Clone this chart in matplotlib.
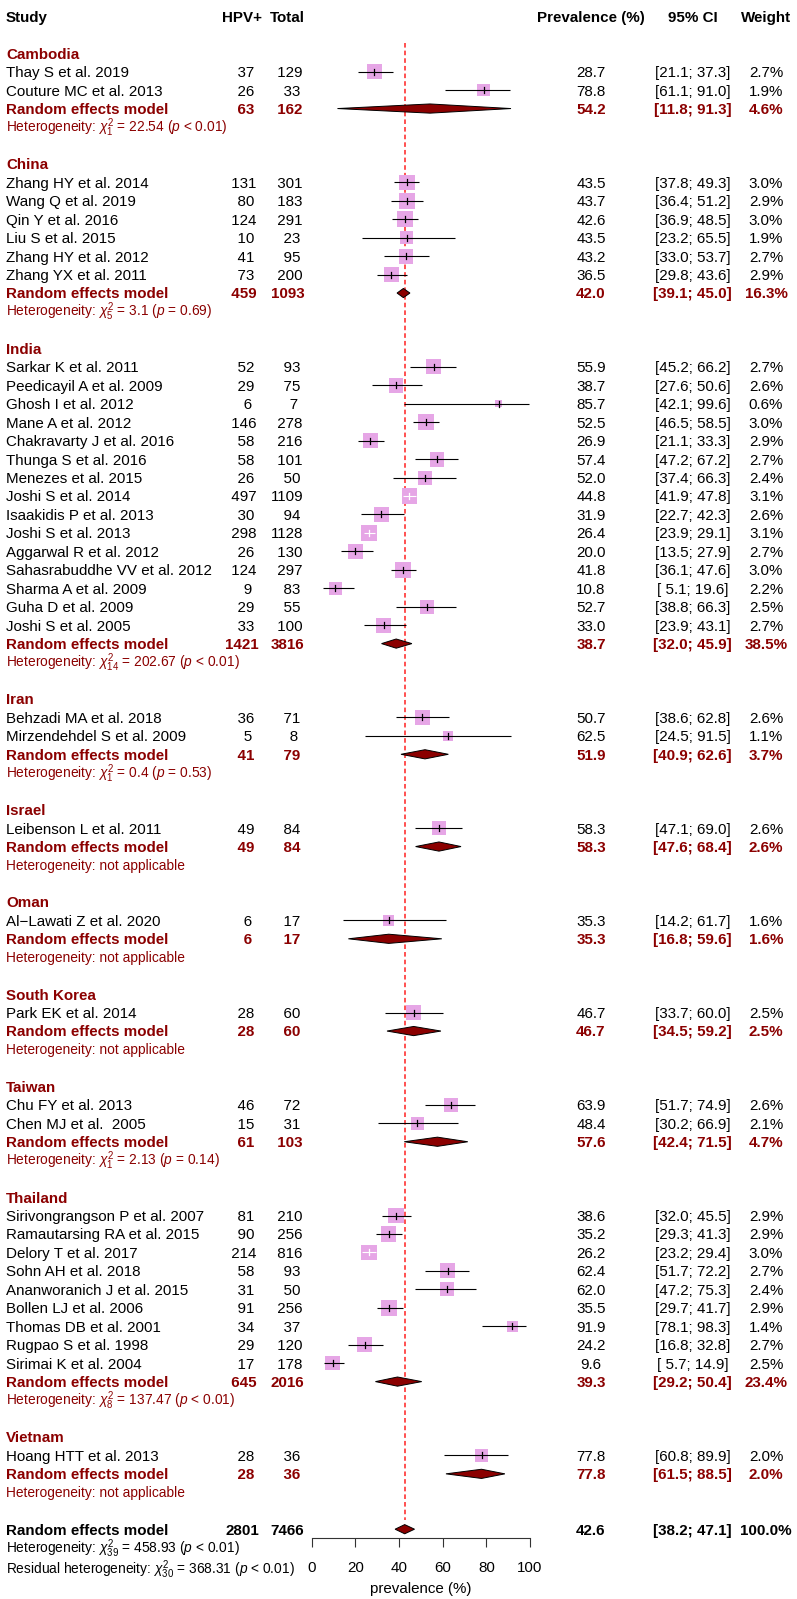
import numpy as np
import matplotlib
matplotlib.use("Agg")
import matplotlib.pyplot as plt
from matplotlib.patches import Rectangle, Polygon
from matplotlib.transforms import blended_transform_factory

plt.rcParams['font.family'] = ['Liberation Sans', 'DejaVu Sans']
plt.rcParams['mathtext.fontset'] = 'custom'
plt.rcParams['mathtext.rm'] = 'Liberation Sans'
plt.rcParams['mathtext.it'] = 'Liberation Sans:italic'
plt.rcParams['mathtext.bf'] = 'Liberation Sans:bold'

# ---------------- data ----------------
groups = ["Cambodia", "China", "India", "Iran", "Israel", "Oman",
          "South Korea", "Taiwan", "Thailand", "Vietnam"]

study_group = (["Cambodia"] * 2 + ["China"] * 6 + ["India"] * 15 + ["Iran"] * 2 +
               ["Israel"] + ["Oman"] + ["South Korea"] + ["Taiwan"] * 2 +
               ["Thailand"] * 9 + ["Vietnam"])

studies = [
    "Thay S et al. 2019", "Couture MC et al. 2013",
    "Zhang HY et al. 2014", "Wang Q et al. 2019", "Qin Y et al. 2016",
    "Liu S et al. 2015", "Zhang HY et al. 2012", "Zhang YX et al. 2011",
    "Sarkar K et al. 2011", "Peedicayil A et al. 2009", "Ghosh I et al. 2012",
    "Mane A et al. 2012", "Chakravarty J et al. 2016", "Thunga S et al. 2016",
    "Menezes et al. 2015", "Joshi S et al. 2014", "Isaakidis P et al. 2013",
    "Joshi S et al. 2013", "Aggarwal R et al. 2012", "Sahasrabuddhe VV et al. 2012",
    "Sharma A et al. 2009", "Guha D et al. 2009", "Joshi S et al. 2005",
    "Behzadi MA et al. 2018", "Mirzendehdel S et al. 2009",
    "Leibenson L et al. 2011",
    "Al\u2212Lawati Z et al. 2020",
    "Park EK et al. 2014",
    "Chu FY et al. 2013", "Chen MJ et al.  2005",
    "Sirivongrangson P et al. 2007", "Ramautarsing RA et al. 2015",
    "Delory T et al. 2017", "Sohn AH et al. 2018", "Ananworanich J et al. 2015",
    "Bollen LJ et al. 2006", "Thomas DB et al. 2001", "Rugpao S et al. 1998",
    "Sirimai K et al. 2004",
    "Hoang HTT et al. 2013",
]
events = [37, 26,
          131, 80, 124, 10, 41, 73,
          52, 29, 6, 146, 58, 58, 26, 497, 30, 298, 26, 124, 9, 29, 33,
          36, 5,
          49,
          6,
          28,
          46, 15,
          81, 90, 214, 58, 31, 91, 34, 29, 17,
          28]
totals = [129, 33,
          301, 183, 291, 23, 95, 200,
          93, 75, 7, 278, 216, 101, 50, 1109, 94, 1128, 130, 297, 83, 55, 100,
          71, 8,
          84,
          17,
          60,
          72, 31,
          210, 256, 816, 93, 50, 256, 37, 120, 178,
          36]
prev = [28.7, 78.8,
        43.5, 43.7, 42.6, 43.5, 43.2, 36.5,
        55.9, 38.7, 85.7, 52.5, 26.9, 57.4, 52.0, 44.8, 31.9, 26.4, 20.0, 41.8, 10.8, 52.7, 33.0,
        50.7, 62.5,
        58.3,
        35.3,
        46.7,
        63.9, 48.4,
        38.6, 35.2, 26.2, 62.4, 62.0, 35.5, 91.9, 24.2, 9.6,
        77.8]
ci_lo = [21.1, 61.1,
         37.8, 36.4, 36.9, 23.2, 33.0, 29.8,
         45.2, 27.6, 42.1, 46.5, 21.1, 47.2, 37.4, 41.9, 22.7, 23.9, 13.5, 36.1, 5.1, 38.8, 23.9,
         38.6, 24.5,
         47.1,
         14.2,
         33.7,
         51.7, 30.2,
         32.0, 29.3, 23.2, 51.7, 47.2, 29.7, 78.1, 16.8, 5.7,
         60.8]
ci_hi = [37.3, 91.0,
         49.3, 51.2, 48.5, 65.5, 53.7, 43.6,
         66.2, 50.6, 99.6, 58.5, 33.3, 67.2, 66.3, 47.8, 42.3, 29.1, 27.9, 47.6, 19.6, 66.3, 43.1,
         62.8, 91.5,
         69.0,
         61.7,
         60.0,
         74.9, 66.9,
         45.5, 41.3, 29.4, 72.2, 75.3, 41.7, 98.3, 32.8, 14.9,
         89.9]
weights = [2.7, 1.9,
           3.0, 2.9, 3.0, 1.9, 2.7, 2.9,
           2.7, 2.6, 0.6, 3.0, 2.9, 2.7, 2.4, 3.1, 2.6, 3.1, 2.7, 3.0, 2.2, 2.5, 2.7,
           2.6, 1.1,
           2.6,
           1.6,
           2.5,
           2.6, 2.1,
           2.9, 2.9, 3.0, 2.7, 2.4, 2.9, 1.4, 2.7, 2.5,
           2.0]

# subgroup random effects summaries (in order of groups)
sub_events = [63, 459, 1421, 41, 49, 6, 28, 61, 645, 28]
sub_totals = [162, 1093, 3816, 79, 84, 17, 60, 103, 2016, 36]
sub_prev = [54.2, 42.0, 38.7, 51.9, 58.3, 35.3, 46.7, 57.6, 39.3, 77.8]
sub_lo = [11.8, 39.1, 32.0, 40.9, 47.6, 16.8, 34.5, 42.4, 29.2, 61.5]
sub_hi = [91.3, 45.0, 45.9, 62.6, 68.4, 59.6, 59.2, 71.5, 50.4, 88.5]
sub_weight = [4.6, 16.3, 38.5, 3.7, 2.6, 1.6, 2.5, 4.7, 23.4, 2.0]
sub_het_df = [1, 5, 14, 1, None, None, None, 1, 8, None]
sub_het_q = ["22.54", "3.1", "202.67", "0.4", None, None, None, "2.13", "137.47", None]
sub_het_p = ["< 0.01", "= 0.69", "< 0.01", "= 0.53", None, None, None, "= 0.14", "< 0.01", None]

overall_events, overall_total = 2801, 7466
overall_prev, overall_lo, overall_hi, overall_weight = 42.6, 38.2, 47.1, 100.0
overall_het = (39, "458.93", "< 0.01")
resid_het = (30, "368.31", "< 0.01")

# ---------------- layout ----------------
FIG_W, FIG_H = 797, 1599
ROW0, ROW_H = 16.3, 18.45
X0_PX, X100_PX = 311.7, 530.0
PX_PER_UNIT = (X100_PX - X0_PX) / 100.0
FS, FS_SMALL = 10.9, 9.9
DARKRED = '#8B0000'
SQ_COL = '#E6A6E6'
COL_STUDY, COL_EV, COL_TOT = 6, 242, 287.5
COL_PREV, COL_CI, COL_W = 591, 692.5, 766

fig = plt.figure(figsize=(FIG_W / 100, FIG_H / 100), dpi=100)
BOTTOM_ROW = 82.5
ax_h = (ROW0 + BOTTOM_ROW * ROW_H) / FIG_H
ax = fig.add_axes([X0_PX / FIG_W, 1 - ax_h, (X100_PX - X0_PX) / FIG_W, ax_h])
ax.set_xlim(0, 100)
ax.set_ylim(BOTTOM_ROW, -ROW0 / ROW_H)
for s in ['left', 'right', 'top']:
    ax.spines[s].set_visible(False)
ax.spines['bottom'].set_linewidth(0.8)
ax.spines['bottom'].set_color('#333333')
ax.set_yticks([])
ax.set_xticks([0, 20, 40, 60, 80, 100])
ax.tick_params(axis='x', length=6.5, width=0.8, color='#333333', pad=10, labelsize=FS)
ax.set_xlabel('prevalence (%)', fontsize=FS, labelpad=4.5)
ax.patch.set_visible(False)

trans = blended_transform_factory(fig.transFigure, ax.transData)


def cap_off(size):
    return 0.716 * size * 100 / 72 / 2 / ROW_H


def put(px, row, s, ha='center', bold=False, color='black', size=FS):
    ax.text(px / FIG_W, row + cap_off(size), s, transform=trans, ha=ha, va='baseline',
            fontsize=size, fontweight='bold' if bold else 'normal', color=color, clip_on=False)


def het_text(df, q, p):
    if df is None:
        return "Heterogeneity: not applicable"
    return "Heterogeneity: $\\chi^2_{%d}$ = %s ($p$ %s)" % (df, q, p)


def ci_text(lo, hi):
    return "[%4.1f; %4.1f]" % (lo, hi)


def study_row(i, row):
    put(COL_STUDY, row, studies[i], ha='left')
    put(COL_EV, row, "%4d" % events[i])
    put(COL_TOT, row, "%4d" % totals[i])
    put(COL_PREV, row, "%.1f" % prev[i])
    put(COL_CI, row, ci_text(ci_lo[i], ci_hi[i]))
    put(COL_W, row, "%.1f%%" % weights[i])
    side_px = 9.06 * np.sqrt(weights[i])
    wd = side_px / PX_PER_UNIT
    hr = side_px / ROW_H
    ax.add_patch(Rectangle((prev[i] - wd / 2, row - hr / 2), wd, hr,
                           facecolor=SQ_COL, edgecolor='none', zorder=2))
    inside = ci_lo[i] >= prev[i] - wd / 2 and ci_hi[i] <= prev[i] + wd / 2
    lc = 'white' if inside else 'black'
    ax.plot([ci_lo[i], ci_hi[i]], [row, row], color=lc, lw=0.8, zorder=3,
            solid_capstyle='butt')
    ax.plot([prev[i], prev[i]], [row - 0.16, row + 0.16], color=lc, lw=0.9, zorder=4)


def diamond(est, lo, hi, row):
    dh = 4.6 / ROW_H
    ax.add_patch(Polygon([(lo, row), (est, row - dh), (hi, row), (est, row + dh)],
                         closed=True, facecolor=DARKRED, edgecolor='black', lw=0.7, zorder=5))


# header
put(COL_STUDY, 0, "Study", ha='left', bold=True)
put(COL_EV, 0, "HPV+", bold=True)
put(COL_TOT, 0, "Total", bold=True)
put(COL_PREV, 0, "Prevalence (%)", bold=True)
put(COL_CI, 0, "95% CI", bold=True)
put(COL_W, 0, "Weight", bold=True)

row = 2
for g_i, g in enumerate(groups):
    put(COL_STUDY, row, g, ha='left', bold=True, color=DARKRED)
    row += 1
    for i, sg in enumerate(study_group):
        if sg == g:
            study_row(i, row)
            row += 1
    put(COL_STUDY, row, "Random effects model", ha='left', bold=True, color=DARKRED)
    put(COL_EV, row, "%4d" % sub_events[g_i], bold=True, color=DARKRED)
    put(COL_TOT, row, "%4d" % sub_totals[g_i], bold=True, color=DARKRED)
    put(COL_PREV, row, "%.1f" % sub_prev[g_i], bold=True, color=DARKRED)
    put(COL_CI, row, ci_text(sub_lo[g_i], sub_hi[g_i]), bold=True, color=DARKRED)
    put(COL_W, row, "%.1f%%" % sub_weight[g_i], bold=True, color=DARKRED)
    diamond(sub_prev[g_i], sub_lo[g_i], sub_hi[g_i], row)
    row += 1
    put(COL_STUDY, row, het_text(sub_het_df[g_i], sub_het_q[g_i], sub_het_p[g_i]),
        ha='left', color=DARKRED, size=FS_SMALL)
    row += 2

# overall
put(COL_STUDY, row, "Random effects model", ha='left', bold=True)
put(COL_EV, row, "%4d" % overall_events, bold=True)
put(COL_TOT, row, "%4d" % overall_total, bold=True)
put(COL_PREV, row, "%.1f" % overall_prev, bold=True)
put(COL_CI, row, ci_text(overall_lo, overall_hi), bold=True)
put(COL_W, row, "%.1f%%" % overall_weight, bold=True)
diamond(overall_prev, overall_lo, overall_hi, row)
overall_row = row
put(COL_STUDY, row + 1 + 0.6 / ROW_H, het_text(*overall_het), ha='left', size=FS_SMALL)
put(COL_STUDY, row + 2 + 3.0 / ROW_H,
    "Residual heterogeneity: $\\chi^2_{%d}$ = %s ($p$ %s)" % resid_het,
    ha='left', size=FS_SMALL)

# reference line
ax.plot([overall_prev, overall_prev], [1.45, overall_row - 0.5], color='#FF2020', lw=1.1,
        linestyle=(0, (3, 2)), zorder=1)

fig.savefig("out.png", dpi=100)
